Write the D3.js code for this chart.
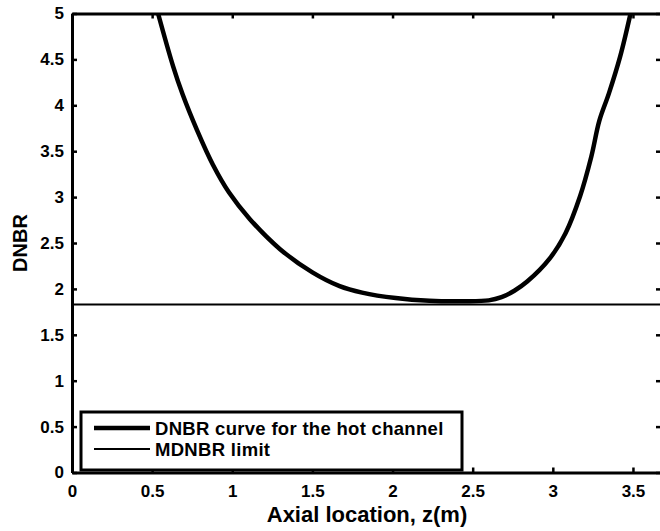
<!DOCTYPE html>
<html>
<head>
<meta charset="utf-8">
<script src="https://cdnjs.cloudflare.com/ajax/libs/d3/7.8.5/d3.min.js"></script>
<style>
  body { margin: 0; background: #fff; }
  svg { display: block; font-family: "Liberation Sans", Arial, sans-serif; font-weight: bold; }
</style>
</head>
<body>
<script>
// chart values
var zValues = [0.537, 0.63, 0.69, 0.78, 0.88, 0.98, 1.11, 1.30, 1.50, 1.67, 1.81, 2.02, 2.23, 2.45, 2.60, 2.68, 2.76, 2.84, 2.98, 3.08, 3.17, 3.24, 3.29, 3.35, 3.42, 3.485];
var dnbrValues = [5.0, 4.43, 4.12, 3.73, 3.35, 3.05, 2.76, 2.43, 2.18, 2.03, 1.96, 1.90, 1.87, 1.865, 1.875, 1.91, 1.98, 2.08, 2.33, 2.61, 3.01, 3.44, 3.83, 4.13, 4.53, 5.0];
var mdnbrLimit = 1.83;
var xTicks = [0, 0.5, 1, 1.5, 2, 2.5, 3, 3.5];
var yTicks = [0, 0.5, 1, 1.5, 2, 2.5, 3, 3.5, 4, 4.5, 5];
var legendLabels = ["DNBR curve for the hot channel", "MDNBR limit"];

var w = 660, h = 531;
var padLeft = 72, padRight = 661, padTop = 13.5, padBottom = 472.5;

var svg = d3.select("body").append("svg")
  .attr("width", w)
  .attr("height", h);

var x = d3.scaleLinear().domain([0, 3.675]).range([padLeft, padRight]);
var y = d3.scaleLinear().domain([0, 5]).range([padBottom, padTop]);

var points = zValues.map(function(z, i) { return [z, dnbrValues[i]]; });

// MDNBR limit line
svg.append("line")
  .attr("x1", x(0)).attr("x2", x(3.675))
  .attr("y1", y(mdnbrLimit)).attr("y2", y(mdnbrLimit))
  .attr("stroke", "#000").attr("stroke-width", 2);

// DNBR curve
var line = d3.line()
  .x(function(d) { return x(d[0]); })
  .y(function(d) { return y(d[1]); })
  .curve(d3.curveCatmullRom.alpha(0.5));

svg.append("path")
  .datum(points)
  .attr("d", line)
  .attr("fill", "none")
  .attr("stroke", "#000")
  .attr("stroke-width", 4.5);

// axes, matlab style with inward ticks
var axisStyle = function(g) {
  g.select(".domain").attr("stroke-width", 3);
  g.selectAll(".tick line").attr("stroke-width", 2.5);
};
var labelStyle = function(g) {
  g.selectAll("text").attr("font-size", 17).attr("font-family", null).attr("fill", "#000");
};

svg.append("g")
  .attr("transform", "translate(0," + padBottom + ")")
  .call(d3.axisBottom(x).tickValues(xTicks).tickSizeInner(-5).tickSizeOuter(0).tickPadding(12).tickFormat(d3.format("")))
  .call(axisStyle)
  .call(labelStyle);

svg.append("g")
  .attr("transform", "translate(" + padLeft + ",0)")
  .call(d3.axisLeft(y).tickValues(yTicks).tickSizeInner(-5).tickSizeOuter(0).tickPadding(8).tickFormat(d3.format("")))
  .call(axisStyle)
  .call(labelStyle);

svg.append("g")
  .attr("transform", "translate(0," + padTop + ")")
  .call(d3.axisTop(x).tickValues(xTicks).tickSizeInner(-5).tickSizeOuter(0).tickFormat(""))
  .call(axisStyle);

svg.append("g")
  .attr("transform", "translate(" + padRight + ",0)")
  .call(d3.axisRight(y).tickValues(yTicks).tickSizeInner(-5).tickSizeOuter(0).tickFormat(""))
  .call(axisStyle);

// axis titles
svg.append("text")
  .attr("x", 367)
  .attr("y", 522)
  .attr("text-anchor", "middle")
  .attr("font-size", 22)
  .text("Axial location, z(m)");

svg.append("text")
  .attr("transform", "translate(27," + ((padTop + padBottom) / 2) + ") rotate(-90)")
  .attr("text-anchor", "middle")
  .attr("font-size", 20)
  .text("DNBR");

// legend
var legend = svg.append("g");
legend.append("rect")
  .attr("x", 81).attr("y", 412)
  .attr("width", 381).attr("height", 58)
  .attr("fill", "#fff")
  .attr("stroke", "#000")
  .attr("stroke-width", 3);

var widths = [4.5, 2];
legendLabels.forEach(function(label, i) {
  var ly = 428 + i * 21;
  legend.append("line")
    .attr("x1", 94).attr("x2", 150)
    .attr("y1", ly).attr("y2", ly)
    .attr("stroke", "#000").attr("stroke-width", widths[i]);
  legend.append("text")
    .attr("x", 155).attr("y", ly + 6.5)
    .attr("font-size", 18.5)
    .attr("letter-spacing", 0.3)
    .text(label);
});
</script>
</body>
</html>
